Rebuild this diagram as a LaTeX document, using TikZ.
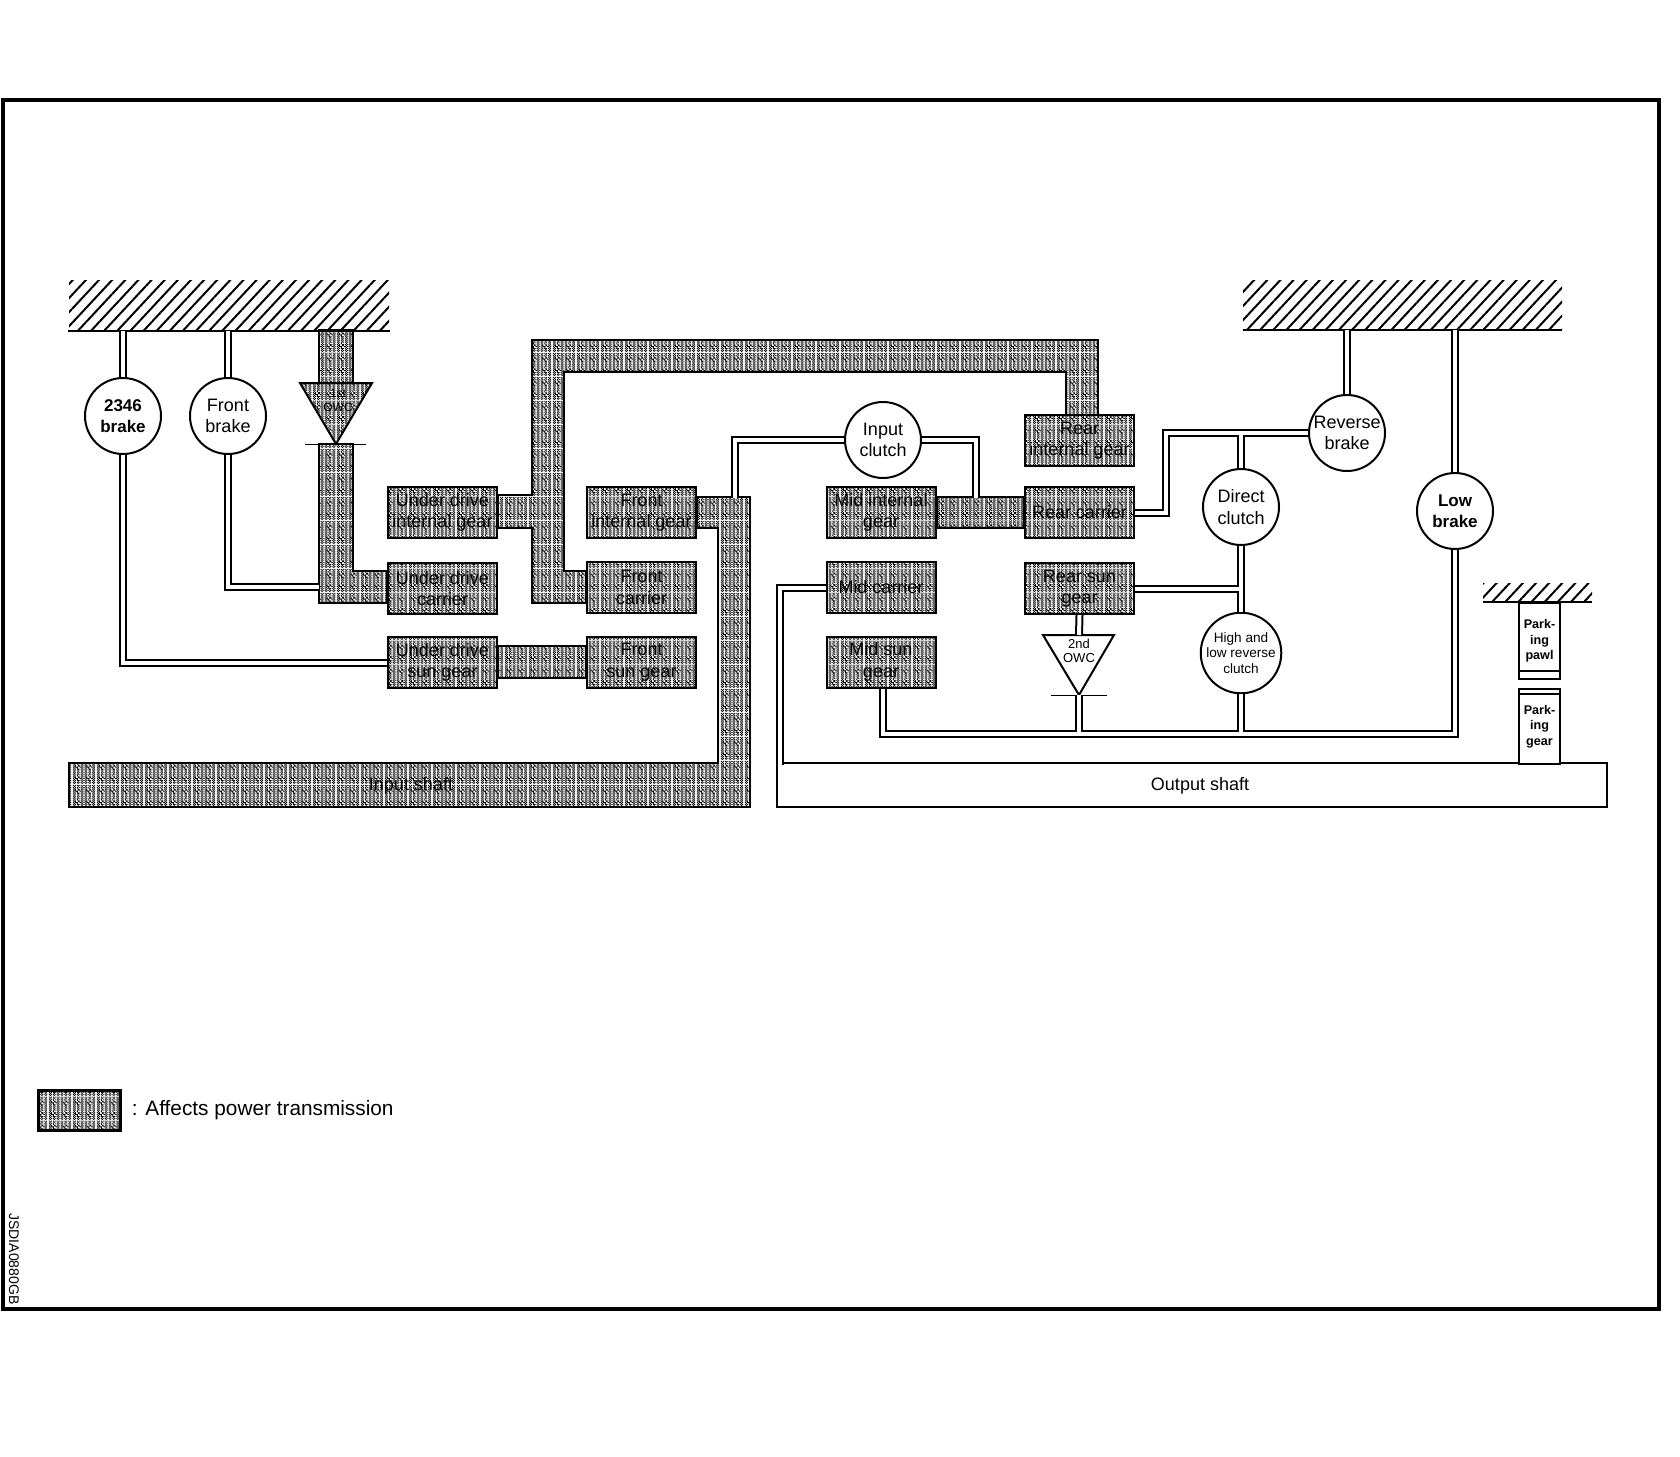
\documentclass[tikz,border=0pt]{standalone}
\usepackage{fontspec}
\setmainfont{Liberation Sans}
\usetikzlibrary{patterns,patterns.meta,backgrounds,positioning}

\pgfdeclarepatternformonly{gearshade}{\pgfpointorigin}{\pgfqpoint{12pt}{12pt}}{\pgfqpoint{12pt}{12pt}}{%
  \foreach \i in {0,...,23} {
    \foreach \j in {0,...,23} {
      \pgfmathtruncatemacro{\di}{abs(mod(\i,12)-6)+abs(mod(\j,12)-6)}
      \pgfmathtruncatemacro{\hit}{\di<4 ? (mod(int(\i/2)+int(\j/2),2)==0) : (mod(\i+\j,2)==0 && mod(\i,4)>0 ? 1 : 0)}
      \ifnum\hit=1
        \pgfpathrectangle{\pgfpoint{\i*0.5pt}{\j*0.5pt}}{\pgfqpoint{0.5pt}{0.5pt}}
      \fi
    }
  }
  \pgfusepath{fill}
}

\begin{document}
\begin{tikzpicture}[
  x=0.5pt, y=-0.5pt,
  every node/.style={inner sep=0pt, font=\fontsize{9}{10.8}\selectfont, align=center},
  hatch/.style={minimum height=25pt, pattern={Lines[angle=47,distance=4.8pt,line width=1pt]}},
  base/.style={draw, line width=1pt},
  gearbox/.style={draw, line width=1pt, minimum width=54.5pt, minimum height=25.5pt, pattern=gearshade},
  elem/.style={circle, draw, fill=white, line width=1pt, minimum size=38pt},
  part/.style={font=\bfseries\fontsize{6.3}{7.8}\selectfont},
  band/.style={draw, line width=1pt, pattern=gearshade},
  link/.style={draw, line width=1pt, double, double distance=2pt},
  plain/.style={draw, line width=1pt, fill=white}]

  \useasboundingbox (0,0) rectangle (1680,1456);
  \draw[line width=2pt] (3,100) rectangle (1659,1309);

  \node[hatch, minimum width=160pt] (GndL) at (229,305) {};
  \node[hatch, minimum width=159.5pt] (GndR) at (1402.5,305) {};
  \node[hatch, minimum width=54.5pt, minimum height=9.5pt] (GndP) at (1537.5,592.5) {};
  \draw[base] (GndL.south west) -- (GndL.south east);
  \draw[base] (GndR.south west) -- (GndR.south east);
  \draw[base] (GndP.south west) -- (GndP.south east);

  \node[gearbox] (UDI) at (442.5,512.5) {Under drive\\internal gear};
  \node[gearbox] (UDC) at (442.5,588.5) {Under drive\\carrier};
  \node[gearbox] (UDS) at (442.5,662.5) {Under drive\\sun gear};
  \node[gearbox] (FI)  at (641.5,512.5) {Front\\internal gear};
  \node[gearbox] (FC)  at (641.5,587.5) {Front\\carrier};
  \node[gearbox] (FS)  at (641.5,662)   {Front\\sun gear};
  \node[gearbox] (MI)  at (881,512.5)   {Mid internal\\gear};
  \node[gearbox] (MC)  at (881,587.5)   {Mid carrier};
  \node[gearbox] (MS)  at (881,662)     {Mid sun\\gear};
  \node[gearbox] (RI)  at (1079.5,440.5) {Rear\\internal gear};
  \node[gearbox] (RC)  at (1079.5,512.5) {Rear carrier};
  \node[gearbox] (RS)  at (1079.5,588.5) {Rear sun\\gear};

  \begin{scope}[on background layer]
    \draw[band] (319,330) rectangle (353,383);
    \draw[band] (319,444) -- (353,444) -- (353,571) -- (UDC.west |- 0,571)
      -- (UDC.west |- 0,603) -- (319,603) -- cycle;
    \draw[band] (UDI.east |- 0,495) -- (532,495) -- (532,340) -- (1098,340) -- (1098,415)
      -- (1066,415) -- (1066,372) -- (564,372) -- (564,571) -- (FC.west |- 0,571)
      -- (FC.west |- 0,603) -- (532,603) -- (532,528) -- (UDI.east |- 0,528) -- cycle;
    \draw[band] (UDS.east |- 0,646) -- (FS.west |- 0,646) -- (FS.west |- 0,678)
      -- (UDS.east |- 0,678) -- cycle;
    \draw[band] (FI.east |- 0,497) -- (750,497) -- (750,807) -- (69,807) -- (69,763)
      -- (718,763) -- (718,528) -- (FI.east |- 0,528) -- cycle;
    \draw[band] (MI.east |- 0,497) -- (RC.west |- 0,497) -- (RC.west |- 0,528)
      -- (MI.east |- 0,528) -- cycle;
  \end{scope}

  \node (InShaft) at (411,786) {Input shaft};
  \node[draw, line width=1pt, minimum width=415pt, minimum height=22pt] (OutShaft) at (1192,785) {};
  \node at (1200,786) {Output shaft};

  \draw[band] (300,383) -- (372,383) -- (336,444) -- cycle;
  \draw[base, line width=0.5pt] (305,444) -- (366,444);
  \node[font=\fontsize{6}{7}\selectfont] (OWCa) at (338,400) {1st\\OWC};

  \draw[plain] (1043,635) -- (1114,635) -- (1079,695) -- cycle;
  \draw[base, line width=0.5pt] (1051,695) -- (1107,695);
  \node[font=\fontsize{6.5}{7.2}\selectfont] (OWCb) at (1079,651) {2nd\\OWC};
  \coordinate (OWCbTop) at (1079,635);
  \coordinate (OWCbEnd) at (1079,695);

  \node[elem, font=\bfseries\fontsize{8.5}{10.5}\selectfont] (BrkA) at (123,416) {2346\\brake};
  \node[elem] (BrkF) at (228,416)  {Front\\brake};
  \node[elem] (CluI) at (883,440)  {Input\\clutch};
  \node[elem] (BrkR) at (1347,433) {Reverse\\brake};
  \node[elem] (CluD) at (1241,507) {Direct\\clutch};
  \node[elem, font=\bfseries\fontsize{8.5}{10.5}\selectfont] (BrkL) at (1455,511) {Low\\brake};
  \node[elem, font=\fontsize{6.8}{7.8}\selectfont] (CluH) at (1241,653) {High and\\low reverse\\clutch};

  \node[plain, minimum width=20.5pt, minimum height=38pt, anchor=north, part] (Pawl) at (1539.5,602) {Park-\\ing\\pawl};
  \node[plain, minimum width=20.5pt, minimum height=37.5pt, anchor=north, part] (PGear) at (1539.5,688) {Park-\\ing\\gear};
  \draw[base] (1519,671) -- (1560,671);
  \draw[base] (1519,694) -- (1560,694);

  \coordinate (BandJ)  at (319,587);
  \coordinate (ICa)    at (735,498);
  \coordinate (ICb)    at (976,498);
  \coordinate (ShaftJ) at (780,765);
  \coordinate (RevCor) at (1166,433);
  \coordinate (LowCor) at (1455,734);
  \coordinate (RevJ)   at (1241,435);
  \coordinate (VertJ)  at (1239,589);
  \coordinate (LineJa) at (1079,732);
  \coordinate (LineJb) at (1241,732);

  \draw[link] (BrkA.north |- GndL.south) -- (BrkA.north);
  \draw[link] (BrkF.north |- GndL.south) -- (BrkF.north);
  \draw[link] (BrkA.south) |- (UDS.west);
  \draw[link] (BrkF.south) |- (BandJ);
  \draw[link] (ICa) |- (CluI.west);
  \draw[link] (ICb) |- (CluI.east);
  \draw[link] (MC.west) -| (ShaftJ);
  \draw[link] ([xshift=1pt]MS.south) |- (LowCor) -- (BrkL.south);
  \draw[link] (RC.east) -| (RevCor) -- (BrkR.west);
  \draw[link] (BrkR.north |- GndR.south) -- (BrkR.north);
  \draw[link] (BrkL.north |- GndR.south) -- (BrkL.north);
  \draw[link] (CluD.south) -- (CluH.north);
  \draw[link] (CluD.north) -- (RevJ);
  \draw[link] (RS.east |- VertJ) -- (VertJ);
  \draw[link] (RS.south) -- (OWCbTop);
  \draw[link] (OWCbEnd) -- (LineJa);
  \draw[link] (CluH.south) -- (LineJb);

  \node[draw, line width=1.5pt, minimum width=41pt, minimum height=20pt, pattern=gearshade] (Legend) at (79,1110) {};
  \node[right=5pt of Legend, font=\fontsize{10.4}{12}\selectfont] (LegendTxt) {: Affects power transmission};
  \node[rotate=-90, font=\fontsize{7}{8}\selectfont] (Code) at (14,1259) {JSDIA0880GB};

\end{tikzpicture}
\end{document}
